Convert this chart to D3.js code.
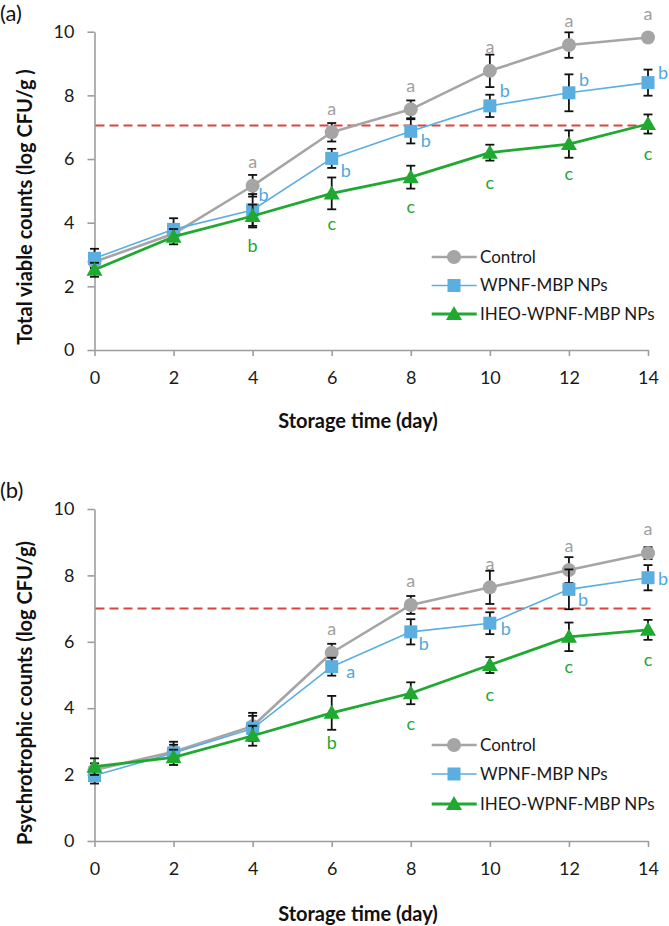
<!DOCTYPE html>
<html>
<head>
<meta charset="utf-8">
<script src="https://cdn.jsdelivr.net/npm/d3@7"></script>
<style>
  html, body { margin: 0; padding: 0; background: #fff; }
  svg { display: block; }
  text { font-family: Lato, "Open Sans", sans-serif; }
</style>
</head>
<body>
<svg id="chart" width="669" height="926"></svg>
<script>
// ---------------- DATA ----------------
const days = [0, 2, 4, 6, 8, 10, 12, 14];
const xTickLabels = [0, 2, 4, 6, 8, 10, 12, 14];
const yTickLabels = [0, 2, 4, 6, 8, 10];
const seriesNames = ["Control", "WPNF-MBP NPs", "IHEO-WPNF-MBP NPs"];

// Panel (a): Total viable counts
const controlA    = [2.77, 3.65, 5.16, 6.84, 7.56, 8.77, 9.58, 9.82];
const controlAErr = [0.20, 0.20, 0.34, 0.29, 0.28, 0.51, 0.40, 0.10];
const wpnfA       = [2.88, 3.79, 4.40, 6.02, 6.87, 7.67, 8.08, 8.40];
const wpnfAErr    = [0.30, 0.35, 0.50, 0.30, 0.38, 0.35, 0.58, 0.41];
const iheoA       = [2.52, 3.56, 4.21, 4.92, 5.43, 6.20, 6.47, 7.10];
const iheoAErr    = [0.22, 0.24, 0.36, 0.50, 0.36, 0.25, 0.43, 0.30];
const controlLettersA = ["", "", "a", "a", "a", "a", "a", "a"];
const wpnfLettersA    = ["", "", "b", "b", "b", "b", "b", "b"];
const iheoLettersA    = ["", "", "b", "c", "c", "c", "c", "c"];
const thresholdA = 7.05;

// Panel (b): Psychrotrophic counts
const controlB    = [2.14, 2.69, 3.46, 5.67, 7.11, 7.64, 8.16, 8.67];
const controlBErr = [0.20, 0.30, 0.40, 0.27, 0.27, 0.50, 0.39, 0.18];
const wpnfB       = [1.97, 2.65, 3.39, 5.25, 6.30, 6.56, 7.58, 7.93];
const wpnfBErr    = [0.24, 0.25, 0.38, 0.27, 0.38, 0.33, 0.60, 0.38];
const iheoB       = [2.24, 2.52, 3.17, 3.86, 4.45, 5.30, 6.15, 6.36];
const iheoBErr    = [0.25, 0.23, 0.30, 0.51, 0.33, 0.24, 0.43, 0.30];
const controlLettersB = ["", "", "", "a", "a", "a", "a", "a"];
const wpnfLettersB    = ["", "", "", "a", "b", "b", "b", "b"];
const iheoLettersB    = ["", "", "", "b", "c", "c", "c", "c"];
const thresholdB = 7.0;

// ---------------- LAYOUT / STYLE ----------------
const colors = ["#a5a5a5", "#5aaee0", "#1fa930"];
const letterColors = ["#9f9f9f", "#4fa7dc", "#23a535"];
const lineWidths = [2.6, 1.6, 2.8];
const markerTypes = ["circle", "square", "triangle"];
// label nudges for the WPNF letters (pixels), placed to the right of the point
const wpnfLabelDyA = [0, 0, -15, 12, 9, -15, -13, -10];
const wpnfLabelDxA = [0, 0, 11, 14, 15, 15, 15, 15];
const wpnfLabelDyB = [0, 0, 0, 5, 12, 5, 10, 1];
const wpnfLabelDxB = [0, 0, 0, 19, 13, 16, 14, 15];

const svg = d3.select("#chart");
svg.append("rect").attr("width", 669).attr("height", 926).attr("fill", "#fff");

function marker(g, type, x, y, color) {
  if (type === "circle") {
    g.append("circle").attr("cx", x).attr("cy", y).attr("r", 7).attr("fill", color);
  } else if (type === "square") {
    g.append("rect").attr("x", x - 6.5).attr("y", y - 6.5).attr("width", 13).attr("height", 13).attr("fill", color);
  } else {
    g.append("path").attr("d", `M${x},${y - 8} L${x + 8},${y + 6} L${x - 8},${y + 6} Z`).attr("fill", color);
  }
}

function drawPanel(cfg) {
  const g = svg.append("g");
  const x = d3.scaleLinear().domain([0, 14]).range([94.5, 648]);
  const y = d3.scaleLinear().domain([0, 10]).range([cfg.y0, cfg.y10]);

  // panel tag
  g.append("text").attr("x", 0).attr("y", cfg.tagY).attr("font-size", 22).attr("fill", "#111").text(cfg.tag);

  // axes
  const yAxis = d3.axisLeft(y).tickValues(yTickLabels).tickSize(7).tickSizeOuter(0).tickPadding(13);
  const xAxis = d3.axisBottom(x).tickValues(xTickLabels).tickSize(6).tickSizeOuter(0).tickPadding(15);
  const ya = g.append("g").attr("transform", `translate(${x(0)},0)`).call(yAxis);
  const xa = g.append("g").attr("transform", `translate(0,${y(0)})`).call(xAxis);
  [ya, xa].forEach(a => {
    a.select(".domain").attr("stroke", "#9d9d9d").attr("stroke-width", 1.6);
    a.selectAll(".tick line").attr("stroke", "#9d9d9d").attr("stroke-width", 1.6);
    a.selectAll(".tick text").attr("font-size", 18).attr("fill", "#1a1a1a").attr("font-family", "Lato, sans-serif");
  });

  // axis titles
  g.append("text")
    .attr("transform", `translate(${cfg.yTitleX},${cfg.yTitleY}) rotate(-90)`)
    .attr("text-anchor", "middle").attr("font-size", 20).attr("font-weight", "bold").attr("fill", "#111")
    .text(cfg.yTitle);
  g.append("text").attr("x", 358).attr("y", cfg.xTitleY)
    .attr("text-anchor", "middle").attr("font-size", 20).attr("font-weight", "bold").attr("fill", "#111")
    .text("Storage time (day)");

  // threshold
  g.append("line").attr("x1", x(0) + 1).attr("x2", x(14) + 6)
    .attr("y1", y(cfg.threshold)).attr("y2", y(cfg.threshold))
    .attr("stroke", "#d9453b").attr("stroke-width", 2).attr("stroke-dasharray", "9,5");

  const line = d3.line().x((d, i) => x(days[i])).y(d => y(d));

  cfg.series.forEach((s, si) => {
    const sg = g.append("g");
    // error bars
    s.values.forEach((v, i) => {
      const cx = x(days[i]), e = s.err[i];
      sg.append("line").attr("x1", cx).attr("x2", cx).attr("y1", y(v - e)).attr("y2", y(v + e))
        .attr("stroke", "#111").attr("stroke-width", 1.8);
      [v - e, v + e].forEach(t => {
        sg.append("line").attr("x1", cx - 4.5).attr("x2", cx + 4.5).attr("y1", y(t)).attr("y2", y(t))
          .attr("stroke", "#111").attr("stroke-width", 1.8);
      });
    });
    sg.append("path").attr("d", line(s.values)).attr("fill", "none")
      .attr("stroke", colors[si]).attr("stroke-width", lineWidths[si]).attr("stroke-linejoin", "round");
    s.values.forEach((v, i) => marker(sg, markerTypes[si], x(days[i]), y(v), colors[si]));
  });

  // letters
  cfg.series.forEach((s, si) => {
    s.letters.forEach((l, i) => {
      if (!l) return;
      let lx = x(days[i]), ly = y(s.values[i]);
      if (si === 0) ly -= 24;
      else if (si === 1) { lx += cfg.dx[i]; ly += cfg.dy[i]; }
      else ly += 30;
      g.append("text").attr("x", lx).attr("y", ly).attr("dy", "0.35em")
        .attr("text-anchor", "middle").attr("font-size", 18).attr("fill", letterColors[si]).text(l);
    });
  });

  // legend
  const lg = g.append("g");
  cfg.legendY.forEach((ly, si) => {
    lg.append("line").attr("x1", 431.7).attr("x2", 476.7).attr("y1", ly).attr("y2", ly)
      .attr("stroke", colors[si]).attr("stroke-width", lineWidths[si]);
    marker(lg, markerTypes[si], 454, ly, colors[si]);
    lg.append("text").attr("x", 480).attr("y", ly).attr("dy", "0.35em")
      .attr("font-size", 17).attr("fill", "#1a1a1a").text(seriesNames[si]);
  });
}

drawPanel({
  tag: "(a)", tagY: 21, y0: 350, y10: 31.7,
  yTitle: "Total viable counts (log CFU/g )", yTitleX: 32, yTitleY: 207, xTitleY: 428,
  threshold: thresholdA, dx: wpnfLabelDxA, dy: wpnfLabelDyA,
  legendY: [257, 285.5, 314],
  series: [
    { values: controlA, err: controlAErr, letters: controlLettersA },
    { values: wpnfA, err: wpnfAErr, letters: wpnfLettersA },
    { values: iheoA, err: iheoAErr, letters: iheoLettersA }
  ]
});

drawPanel({
  tag: "(b)", tagY: 498, y0: 841, y10: 509,
  yTitle: "Psychrotrophic counts (log CFU/g)", yTitleX: 32, yTitleY: 693, xTitleY: 921,
  threshold: thresholdB, dx: wpnfLabelDxB, dy: wpnfLabelDyB,
  legendY: [745, 774, 804],
  series: [
    { values: controlB, err: controlBErr, letters: controlLettersB },
    { values: wpnfB, err: wpnfBErr, letters: wpnfLettersB },
    { values: iheoB, err: iheoBErr, letters: iheoLettersB }
  ]
});
</script>
</body>
</html>
